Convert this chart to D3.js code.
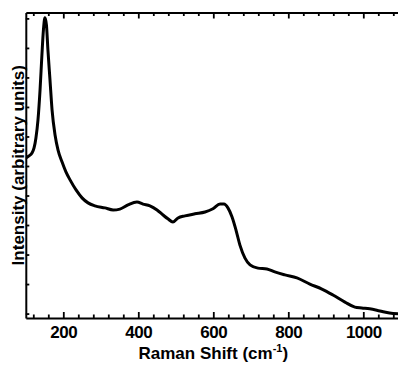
<!DOCTYPE html>
<html>
<head>
<meta charset="utf-8">
<script src="https://cdn.jsdelivr.net/npm/d3@7"></script>
<style>
  html, body { margin: 0; padding: 0; background: #fff; }
  svg { display: block; }
  text { font-family: "Liberation Sans", Arial, sans-serif; font-weight: bold; fill: #000; }
</style>
</head>
<body>
<svg id="chart" width="398" height="365"></svg>
<script>
// Raman spectrum: shift (cm^-1) and intensity (arbitrary units)
const shift = [100.5, 108.5, 116.5, 122, 127, 132.5, 138, 143, 147, 151, 155, 159, 164.5, 170, 178, 186, 196.5, 207, 218, 234, 250, 266, 284.5, 311, 333, 351, 372.5, 396.5, 412.5, 431, 450, 466, 479, 492.5, 506, 524.5, 551, 578, 599, 618, 628.5, 639, 650, 660.5, 671, 684.5, 698, 719, 743, 764, 791, 823, 857.5, 889.5, 919, 951, 977.5, 996, 1017, 1044, 1070, 1097];
const intensity = [5.27, 5.34, 5.44, 5.61, 5.95, 6.56, 7.58, 8.77, 9.61, 10.02, 9.78, 8.93, 7.92, 6.9, 6.05, 5.54, 5.14, 4.8, 4.53, 4.19, 3.92, 3.75, 3.65, 3.58, 3.51, 3.54, 3.68, 3.78, 3.71, 3.65, 3.51, 3.34, 3.21, 3.10, 3.24, 3.31, 3.38, 3.44, 3.55, 3.71, 3.71, 3.58, 3.27, 2.83, 2.32, 1.88, 1.65, 1.54, 1.51, 1.41, 1.31, 1.21, 1.00, 0.83, 0.63, 0.39, 0.22, 0.19, 0.16, 0.09, 0.02, -0.01];

// Axis ticks
const xMajorTicks = [200, 400, 600, 800, 1000];
const xMinorTicks = d3.range(120, 1100, 40).filter(v => v % 200 !== 0);
const yTicks = [0, 1, 2, 3, 4, 5, 6, 7, 8, 9, 10];

const xTitle = "Raman Shift (cm";
const xTitleSup = "-1";
const yTitle = "Intensity (arbitrary units)";

const svg = d3.select("#chart");
const m = { left: 25.8, right: 400.8, top: 12.5, bottom: 318 };

const x = d3.scaleLinear().domain([100, 1100]).range([m.left, m.right]);
const y = d3.scaleLinear().domain([-0.15, 10.2]).range([m.bottom, m.top]);

svg.append("defs").append("clipPath").attr("id", "plotClip")
  .append("rect").attr("x", m.left).attr("y", m.top)
  .attr("width", m.right - m.left).attr("height", m.bottom - m.top);

// spectrum trace
const pts = shift.map((s, i) => [s, intensity[i]]);
const line = d3.line().x(d => x(d[0])).y(d => y(d[1])).curve(d3.curveMonotoneX);
svg.append("path")
  .datum(pts)
  .attr("clip-path", "url(#plotClip)")
  .attr("d", line)
  .attr("fill", "none")
  .attr("stroke", "#000")
  .attr("stroke-width", 3)
  .attr("stroke-linejoin", "round")
  .attr("stroke-linecap", "round");

function styleAxis(g) {
  g.select(".domain").attr("stroke", "#000").attr("stroke-width", 2);
  g.selectAll(".tick line").attr("stroke", "#000").attr("stroke-width", 1.8);
}

// bottom axis: labelled majors + minors
const gb = svg.append("g").attr("transform", `translate(0,${m.bottom})`)
  .call(d3.axisBottom(x).tickValues(xMajorTicks).tickSizeInner(-6).tickSizeOuter(0).tickPadding(8).tickFormat(d3.format("d")));
gb.attr("font-family", null).attr("font-size", null);
gb.selectAll(".tick text").attr("font-size", 17).attr("letter-spacing", -0.5);
styleAxis(gb);
const gbm = svg.append("g").attr("transform", `translate(0,${m.bottom})`)
  .call(d3.axisBottom(x).tickValues(xMinorTicks).tickSizeInner(-3.5).tickSizeOuter(0).tickFormat(""));
gbm.select(".domain").remove();
styleAxis(gbm);

// top axis: ticks only
const gt = svg.append("g").attr("transform", `translate(0,${m.top})`)
  .call(d3.axisTop(x).tickValues(xMajorTicks).tickSizeInner(-6).tickSizeOuter(0).tickFormat(""));
styleAxis(gt);
const gtm = svg.append("g").attr("transform", `translate(0,${m.top})`)
  .call(d3.axisTop(x).tickValues(xMinorTicks).tickSizeInner(-3.5).tickSizeOuter(0).tickFormat(""));
gtm.select(".domain").remove();
styleAxis(gtm);

// left axis: ticks only
const gl = svg.append("g").attr("transform", `translate(${m.left},0)`)
  .call(d3.axisLeft(y).tickValues(yTicks).tickSizeInner(-3.5).tickSizeOuter(0).tickFormat(""));
styleAxis(gl);

// axis titles
const xt = svg.append("text")
  .attr("x", (m.left + m.right) / 2)
  .attr("y", 359)
  .attr("text-anchor", "middle")
  .attr("font-size", 17);
xt.append("tspan").text(xTitle);
xt.append("tspan").attr("font-size", 11).attr("dy", -7).text(xTitleSup);
xt.append("tspan").attr("dy", 7).text(")");

svg.append("text")
  .attr("transform", `translate(24,${(m.top + m.bottom) / 2}) rotate(-90)`)
  .attr("text-anchor", "middle")
  .attr("font-size", 17)
  .text(yTitle);
</script>
</body>
</html>
